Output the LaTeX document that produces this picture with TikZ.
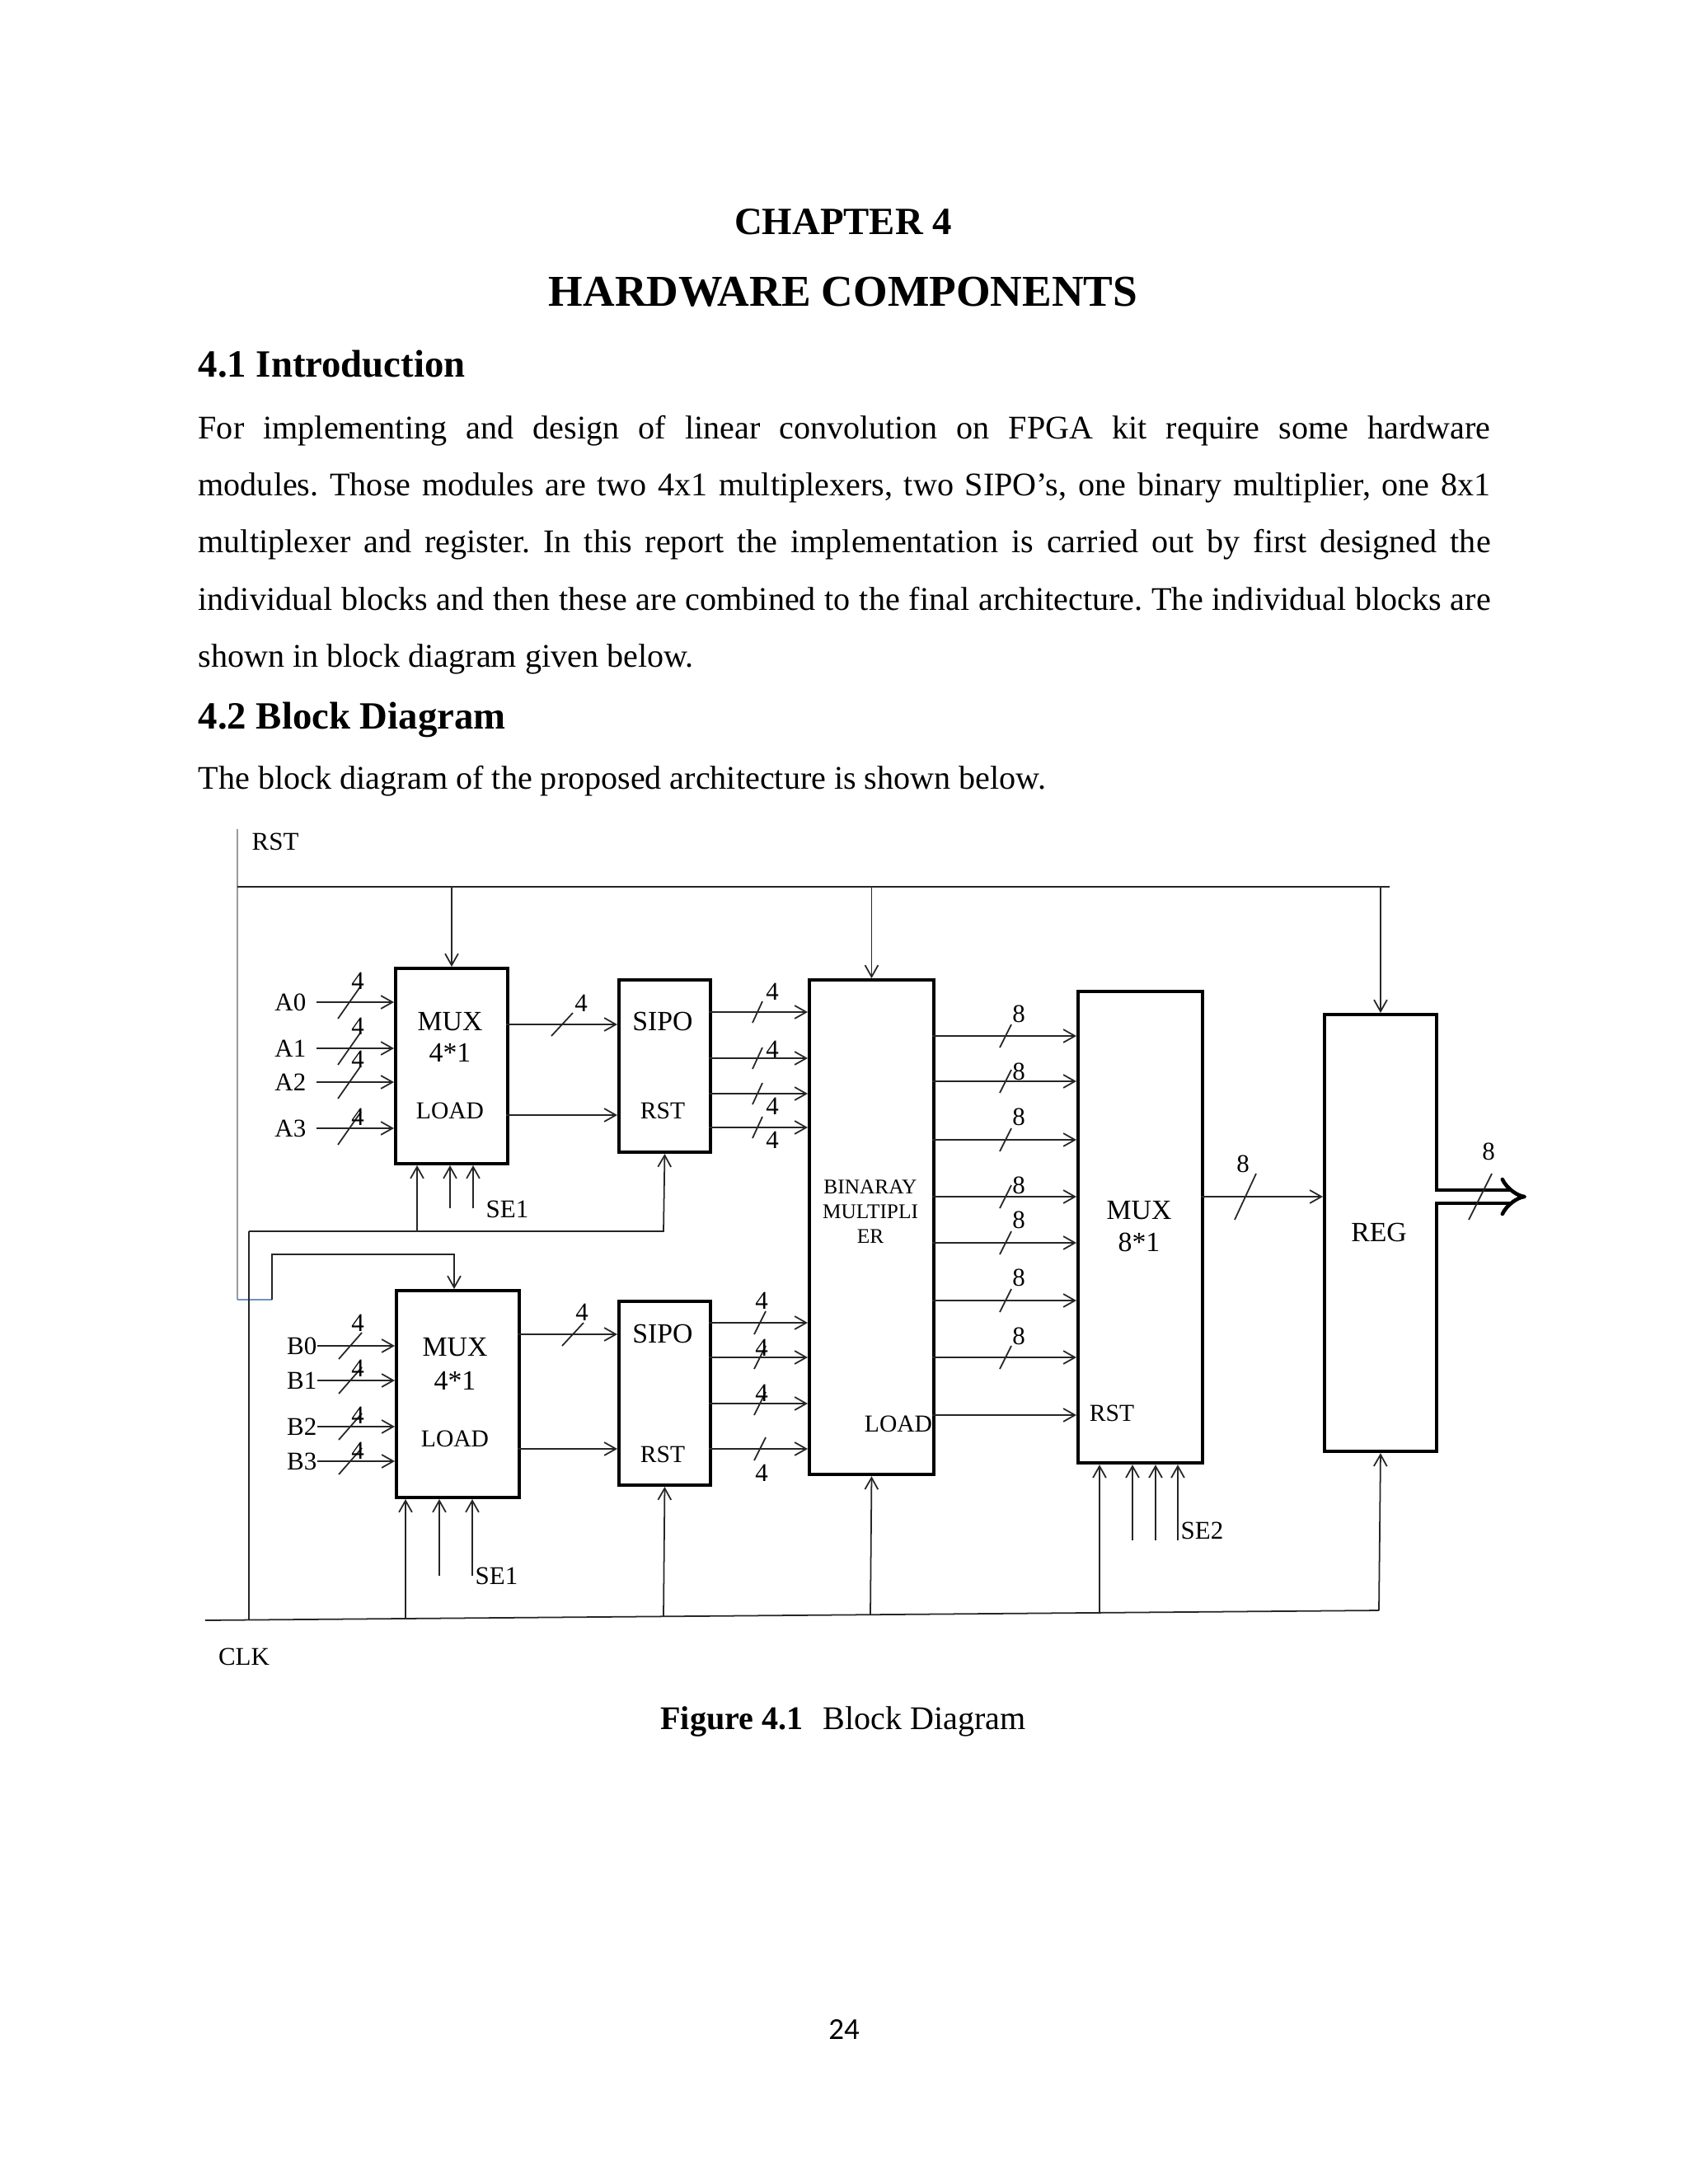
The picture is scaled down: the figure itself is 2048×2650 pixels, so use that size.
\documentclass[tikz,border=0pt]{standalone}
\usepackage{fontspec}
\setmainfont{Liberation Serif}
\newfontfamily\pagenofont{Carlito}
\usepackage{tikz}
\usetikzlibrary{arrows.meta,positioning,calc}
\definecolor{RstGray}{HTML}{9A9A9A}
\definecolor{RstBlue}{HTML}{6F93BF}
\newcommand{\busmark}[4]{\draw[wire] (#1,#2) ++(-#3,#4) -- ++(2*#3,-2*#4);}
\frenchspacing

\begin{document}
\begin{tikzpicture}[x=0.01cm,y=-0.01cm,
  box/.style={draw,line width=1.1pt,anchor=north west,inner sep=0},
  wire/.style={draw=black!85,line width=0.5pt},
  sig/.style={wire,-{Straight Barb[length=4pt,width=4.5pt]}},
  lbl/.style={font=\fontsize{8.8}{10}\selectfont,inner sep=0},
  blk/.style={font=\fontsize{9.6}{11}\selectfont,inner sep=0},
  sml/.style={font=\fontsize{8.4}{10}\selectfont,inner sep=0},
  num/.style={font=\fontsize{8.8}{10}\selectfont,inner sep=0},
  body/.style={anchor=base west,inner sep=0,font=\fontsize{11.4}{13.7}\selectfont},
  head/.style={inner sep=0,font=\fontsize{13.3}{16}\selectfont\bfseries}]

\useasboundingbox[fill=white] (0,0) rectangle (2048,2650);

% page text
\node[head,anchor=base] (chap) at (1023,284) {CHAPTER 4};
\node[anchor=base,inner sep=0,font=\fontsize{15.2}{18}\selectfont\bfseries] (title) at (1023,371) {HARDWARE COMPONENTS};
\node[head,anchor=base west] (intro) at (240,457) {4.1 Introduction};
\node[body] (p1) at (240,532) {\makebox[15.67cm][s]{For implementing and design of linear convolution on FPGA kit require some hardware}};
\node[body] (p2) at (240,601) {\makebox[15.67cm][s]{modules. Those modules are two 4x1 multiplexers, two SIPO’s, one binary multiplier, one 8x1}};
\node[body] (p3) at (240,670) {\makebox[15.67cm][s]{multiplexer and register. In this report the implementation is carried out by first designed the}};
\node[body] (p4) at (240,740) {\makebox[15.67cm][s]{individual blocks and then these are combined to the final architecture. The individual blocks are}};
\node[body] (p5) at (240,809) {shown in block diagram given below.};
\node[head,anchor=base west] (sec) at (240,884) {4.2 Block Diagram};
\node[body] (p6) at (240,957) {The block diagram of the proposed architecture is shown below.};

% blocks
\node[box,minimum width=1.36cm,minimum height=2.37cm] (muxA) at (478,1173) {};
\node[box,minimum width=1.11cm,minimum height=2.09cm] (sipoA) at (749,1187) {};
\node[box,minimum width=1.51cm,minimum height=6.00cm] (mult) at (980,1187) {};
\node[box,minimum width=1.51cm,minimum height=5.72cm] (mux8) at (1306,1201) {};
\node[box,minimum width=1.36cm,minimum height=5.30cm] (reg) at (1605,1229) {};
\node[box,minimum width=1.49cm,minimum height=2.51cm] (muxB) at (479,1564) {};
\node[box,minimum width=1.11cm,minimum height=2.23cm] (sipoB) at (749,1577) {};

% block texts
\node[blk] (tmA) at (546,1240) {MUX};
\node[blk] (tnA) at (546,1277) {4*1};
\node[sml] (tlA) at (546,1348) {LOAD};
\node[blk] (tsA) at (804,1239) {SIPO};
\node[sml] (trA) at (804,1348) {RST};
\node[blk] (tmB) at (552,1635) {MUX};
\node[blk] (tnB) at (552,1675) {4*1};
\node[sml] (tlB) at (552,1746) {LOAD};
\node[blk] (tsB) at (804,1618) {SIPO};
\node[sml] (trB) at (804,1765) {RST};
\node[font=\fontsize{7.2}{8.6}\selectfont,align=center,inner sep=0] (tmul) at (1056,1470) {BINARAY\\MULTIPLI\\ER};
\node[sml] (tlM) at (1090,1728) {LOAD};
\node[blk] (tm8) at (1382,1469) {MUX};
\node[blk] (tn8) at (1382,1507) {8*1};
\node[sml] (tr8) at (1349,1715) {RST};
\node[blk] (treg) at (1673,1495) {REG};

% RST net
\coordinate (rstTop) at (288,1006);
\coordinate (rstH) at (288,1076);
\coordinate (rstEnd) at (1686,1076);
\coordinate (rstBend) at (288,1577);
\coordinate (rstJog) at (330,1577);
\coordinate (rstB) at (551,1522);
\node[lbl,anchor=base west] (rstlbl) at (305,1031) {RST};
\draw[line width=0.6pt,draw=RstGray] (rstTop) -- (rstBend);
\draw[line width=0.5pt,draw=RstBlue] (rstBend) -- (rstJog);
\draw[sig] (rstJog) -- (330,1522) -- (rstB) -- (rstB |- muxB.north);
\draw[wire] (rstH) -- (rstEnd);
\draw[sig] (muxA.north |- rstH) -- (muxA.north);
\draw[sig] (mult.north |- rstH) -- (mult.north);
\draw[sig] (reg.north |- rstH) -- (reg.north);

% CLK net
\coordinate (clkL) at (249,1966);
\coordinate (clkR) at (1673,1954);
\coordinate (tapA) at (302,1965.6);
\coordinate (clkJ) at (302,1494);
\coordinate (tapMA) at (506,1494);
\coordinate (tapMB) at (492,1964);
\coordinate (tapSB) at (805,1961.3);
\coordinate (tapM) at (1056,1959.2);
\coordinate (tap8) at (1334,1956.9);
\node[lbl] (clklbl) at (296,2010) {CLK};
\draw[wire] (clkL) -- (clkR);
\draw[sig] (clkR) -- (reg.south);
\draw[wire] (tapA) -- (clkJ);
\draw[sig] (clkJ) -- (805,1494) -- (sipoA.south);
\draw[sig] (tapMA) -- (tapMA |- muxA.south);
\draw[sig] (tapMB) -- (tapMB |- muxB.south);
\draw[sig] (tapSB) -- (sipoB.south);
\draw[sig] (tapM) -- (mult.south);
\draw[sig] (tap8) -- (tap8 |- mux8.south);

% select lines
\foreach \i/\x in {1/546,2/574}{
  \coordinate (seA\i) at (\x,1466);
  \draw[sig] (seA\i) -- (seA\i |- muxA.south);
}
\foreach \i/\x in {1/533,2/573}{
  \coordinate (seB\i) at (\x,1912);
  \draw[sig] (seB\i) -- (seB\i |- muxB.south);
}
\foreach \i/\x in {1/1374,2/1402,3/1429}{
  \coordinate (se8\i) at (\x,1869);
  \draw[sig] (se8\i) -- (se8\i |- mux8.south);
}
\node[lbl,anchor=west] (se1a) at (589,1467) {SE1};
\node[lbl,anchor=west] (se1b) at (576,1912) {SE1};
\node[lbl,anchor=west] (se2) at (1432,1857) {SE2};

% data inputs
\foreach \n/\y/\t in {0/1216/1190,1/1272/1245,2/1313/1285,3/1369/1355}{
  \coordinate (a\n) at (384,\y);
  \node[lbl,anchor=east] (la\n) at (372,\y) {A\n};
  \draw[sig] (a\n) -- (a\n -| muxA.west);
  \busmark{424}{\y}{14}{20}
  \node[num] (wa\n) at (434,\t) {4};
}
\foreach \n/\y/\t in {0/1633/1605,1/1675/1660,2/1731/1717,3/1773/1760}{
  \coordinate (b\n) at (385,\y);
  \node[lbl,anchor=east] (lb\n) at (385,\y) {B\n};
  \draw[sig] (b\n) -- (b\n -| muxB.west);
  \busmark{425}{\y}{14}{16}
  \node[num] (wb\n) at (434,\t) {4};
}

% mux to sipo
\coordinate (oA) at (614,1243);
\coordinate (lA) at (614,1353);
\draw[sig] (oA) -- (oA -| sipoA.west);
\draw[sig] (lA) -- (lA -| sipoA.west);
\busmark{682}{1243}{13}{14}
\node[num] (woA) at (705,1217) {4};
\coordinate (oB) at (628,1619);
\coordinate (lB) at (628,1758);
\draw[sig] (oB) -- (oB -| sipoB.west);
\draw[sig] (lB) -- (lB -| sipoB.west);
\busmark{695}{1619}{13}{14}
\node[num] (woB) at (706,1592) {4};

% sipo to multiplier
\foreach \k/\y/\t in {1/1228/1203,2/1284/1273,3/1327/1342,4/1368/1383}{
  \coordinate (sa\k) at (860,\y);
  \draw[sig] (sa\k) -- (sa\k -| mult.west);
  \busmark{919}{\y}{6}{13}
  \node[num] (wsa\k) at (937,\t) {4};
}
\foreach \k/\y/\t in {1/1605/1578,2/1647/1635,3/1703/1690,4/1758/1787}{
  \coordinate (sb\k) at (860,\y);
  \draw[sig] (sb\k) -- (sb\k -| mult.west);
  \busmark{922}{\y}{7}{14}
  \node[num] (wsb\k) at (924,\t) {4};
}

% multiplier to mux 8*1
\foreach \k/\y/\t in {1/1257/1230,2/1312/1300,3/1383/1355,4/1452/1438,5/1508/1480,6/1578/1550,7/1647/1621}{
  \coordinate (m\k) at (1131,\y);
  \draw[sig] (m\k) -- (m\k -| mux8.west);
  \busmark{1220}{\y}{7}{14}
  \node[num] (wm\k) at (1236,\t) {8};
}
\coordinate (lM) at (1131,1717);
\draw[sig] (lM) -- (lM -| mux8.west);

% mux 8*1 to reg and output
\coordinate (o8) at (1457,1452);
\draw[sig] (o8) -- (o8 -| reg.west);
\busmark{1511}{1452}{13}{28}
\node[num] (wo8) at (1508,1412) {8};
\coordinate (regout) at (1741,1452);
\coordinate (outtip) at (1852,1452);
\draw[line width=1.3pt,double distance=3.2pt,-{Implies}] (regout) -- (outtip);
\busmark{1796}{1452}{14}{28}
\node[num] (wout) at (1806,1397) {8};

% caption and page number
\node[anchor=base,inner sep=0,font=\fontsize{11.4}{13.7}\selectfont] (cap) at (1023,2098) {\textbf{Figure 4.1}\hspace{0.6em}Block Diagram};
\node[anchor=base,inner sep=0,font=\fontsize{10.5}{12}\pagenofont] (pageno) at (1024,2474) {24};
\end{tikzpicture}
\end{document}
